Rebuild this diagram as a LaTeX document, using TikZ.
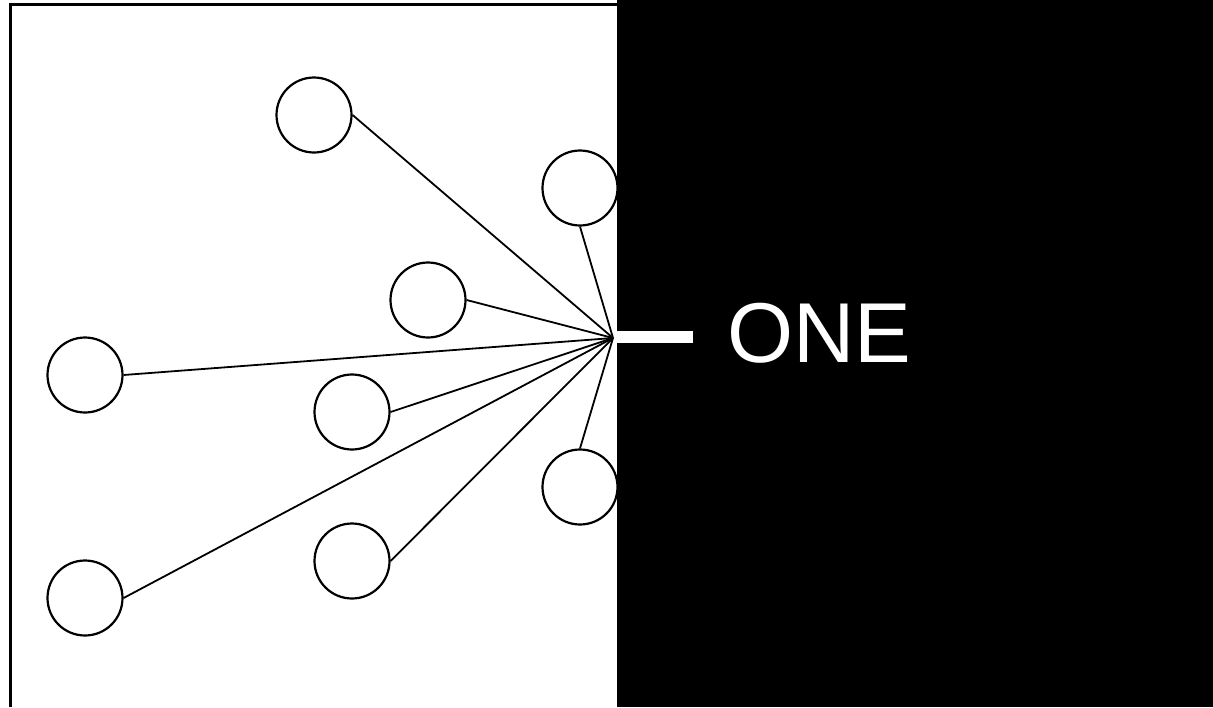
\documentclass[tikz,border=0pt]{standalone}
\usepackage{fontspec}
\setmainfont{Liberation Sans}
\begin{document}
\begin{tikzpicture}[x=1pt,y=-1pt,
  ball/.style={circle,draw=black,line width=2.2pt,minimum size=75pt,inner sep=0pt},
  spoke/.style={draw=black,line width=1.8pt}]
\useasboundingbox (0,0) rectangle (1213,707);
\fill[white] (0,0) rectangle (1213,707);
% border
\draw[line width=3.5pt] (10.5,707) -- (10.5,4.5) -- (620,4.5);
\coordinate (hub) at (613,338);
\node[ball] (c1) at (314,115) {};
\node[ball] (c2) at (580,188) {};
\node[ball] (c3) at (428,300) {};
\node[ball] (c4) at (85,375) {};
\node[ball] (c5) at (352,412) {};
\node[ball] (c6) at (580,487) {};
\node[ball] (c7) at (352,561) {};
\node[ball] (c8) at (85,598) {};
\foreach \c in {c1,c3,c4,c5,c7,c8} \draw[spoke] (\c.east) -- (hub);
\draw[spoke] (c2.south) -- (hub);
\draw[spoke] (c6.north) -- (hub);
% black half
\fill[black] (617,0) rectangle (1213,707);
\fill[white] (617,331) rectangle (693,343);
\node[anchor=base west,inner sep=0pt,text=white,font=\fontsize{85}{85}\selectfont] (t) at (727,362) {ONE};
\end{tikzpicture}
\end{document}
